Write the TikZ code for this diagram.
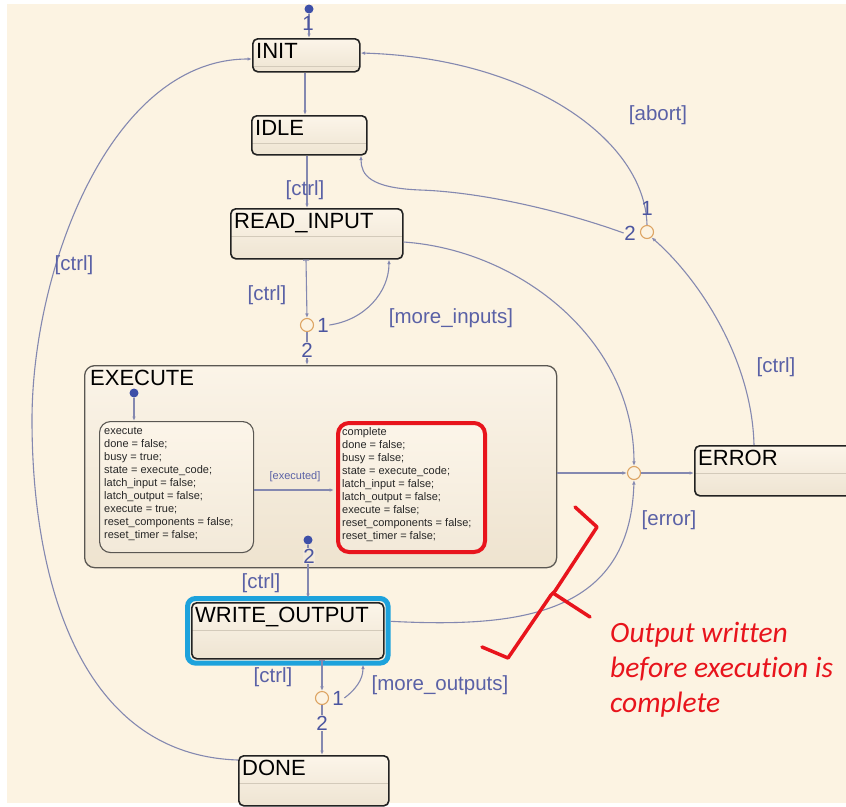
\documentclass[tikz,border=0pt]{standalone}
\usepackage{fontspec}
\setmainfont{Liberation Sans}
\newfontfamily\annofont[Ligatures=NoCommon]{Carlito}
\usetikzlibrary{arrows.meta,calc}

\definecolor{bgcream}{HTML}{FCF3E2}
\definecolor{transline}{HTML}{8488B0}
\definecolor{translabel}{HTML}{5A61A6}
\definecolor{priolabel}{HTML}{4B55A0}
\definecolor{juncring}{HTML}{DDA463}
\definecolor{dotblue}{HTML}{3D4FA8}
\definecolor{statetop}{HTML}{FCF5E9}
\definecolor{statebot}{HTML}{EEE4D2}
\definecolor{stateedge}{HTML}{222222}
\definecolor{supertop}{HTML}{FBF4E8}
\definecolor{superbot}{HTML}{EEE3CF}
\definecolor{superedge}{HTML}{5A5752}
\definecolor{dividerline}{HTML}{D3CABA}
\definecolor{alertred}{HTML}{E8141C}
\definecolor{selblue}{HTML}{1DA2DC}

\tikzset{
  statebox/.style={draw=stateedge, line width=1.6pt, rounded corners=5pt,
    top color=statetop, bottom color=statebot, inner sep=0pt, anchor=north west,
    path picture={\draw[dividerline, line width=0.8pt]
      ([yshift=-28pt]path picture bounding box.north west) --
      ([yshift=-28pt]path picture bounding box.north east);}},
  statename/.style={anchor=north west, inner sep=0pt, text=black,
    font=\fontsize{22}{26}\selectfont, xshift=4pt, yshift=-5pt},
  superbox/.style={draw=superedge, line width=1.3pt, rounded corners=10pt,
    top color=supertop, bottom color=superbot, inner sep=0pt, anchor=north west},
  substate/.style={draw=superedge, line width=1.1pt, rounded corners=11pt,
    top color=statetop, bottom color=statebot!70!statetop, inner sep=0pt, anchor=north west},
  codetext/.style={anchor=north west, inner sep=0pt, align=left, text=black!85,
    font=\fontsize{11}{13}\selectfont, xshift=5pt, yshift=-6pt},
  dot/.style={circle, fill=dotblue, inner sep=0pt, minimum size=9pt},
  junction/.style={circle, draw=juncring, line width=1.1pt, fill=bgcream,
    inner sep=0pt, minimum size=13pt},
  trans/.style={draw=transline, line width=1.1pt,
    -{Latex[open, length=4.5pt, width=3.6pt]}},
  srcbar/.style={arrows={Bar[width=6pt]-Latex[open, length=4.5pt, width=3.6pt]}},
  lbl/.style={text=translabel, inner sep=0pt, font=\fontsize{20.5}{24}\selectfont},
  codelbl/.style={text=translabel, inner sep=0pt, font=\fontsize{11}{13}\selectfont},
  junclbl/.style={text=priolabel, inner sep=0.5pt, font=\fontsize{20.5}{24}\selectfont},
  redmark/.style={draw=alertred, line width=3.5pt, line join=round, line cap=round},
  anno/.style={anchor=base west, align=left, inner sep=0pt, text=alertred,
    font=\annofont\itshape\fontsize{29.5}{35}\selectfont}
}

\begin{document}
\begin{tikzpicture}[x=1pt,y=-1pt]
\useasboundingbox (0,0) rectangle (846,806);
\fill[white] (0,0) rectangle (846,806);
\fill[bgcream] (7,4) rectangle (846,803);

% ---- top-level states ----
\node[statebox, minimum width=107pt, minimum height=33pt,
  label={[statename]north west:INIT}] (init) at (252,38) {};
\node[statebox, minimum width=115pt, minimum height=39pt,
  label={[statename]north west:IDLE}] (idle) at (251,115) {};
\node[statebox, minimum width=172pt, minimum height=50pt,
  label={[statename]north west:READ\_INPUT}] (read) at (230,208) {};
\node[statebox, minimum width=170pt, minimum height=50pt,
  label={[statename]north west:ERROR}] (error) at (694,445) {};

% ---- EXECUTE superstate with its substates ----
\node[superbox, minimum width=472pt, minimum height=202pt,
  label={[statename, xshift=2pt]north west:EXECUTE}] (exec) at (84,365) {};
\node[substate, minimum width=154pt, minimum height=131pt,
  label={[codetext]north west:{execute\\done = false;\\busy = true;\\state = execute\_code;\\latch\_input = false;\\latch\_output = false;\\execute = true;\\reset\_components = false;\\reset\_timer = false;}}]
  (subexec) at (99,421) {};
\node[substate, draw=alertred, line width=4pt, minimum width=147pt, minimum height=129pt,
  label={[codetext, xshift=1pt]north west:{complete\\done = false;\\busy = false;\\state = execute\_code;\\latch\_input = false;\\latch\_output = false;\\execute = false;\\reset\_components = false;\\reset\_timer = false;}}]
  (subdone) at (336,421) {};

% ---- output states ----
\node[statebox, minimum width=192pt, minimum height=56pt,
  label={[statename]north west:WRITE\_OUTPUT}] (write) at (191,602) {};
\draw[selblue, line width=5pt, rounded corners=8pt]
  ([shift={(-3.5pt,3.5pt)}]write.north west) rectangle ([shift={(3.5pt,-3.5pt)}]write.south east);
\node[statebox, minimum width=150pt, minimum height=50pt,
  label={[statename]north west:DONE}] (done) at (238,755) {};

% ---- default transitions and junctions ----
\node[dot] (initdot) at (309,9) {};
\node[dot] (execdot) at (134,393) {};
\node[dot] (histdot) at (308,540) {};
\node[junction] (j1) at (307,325) {};
\node[junction] (j2) at (322,698) {};
\node[junction] (j3) at (634,473) {};
\node[junction] (j4) at (647,232) {};

% ---- main sequence ----
\draw[trans] (initdot) -- (init.north -| initdot);
\node[junclbl] (initprio) at (308,23) {1};
\draw[trans] (init.south -| 305,0) -- (idle.north -| 305,0);
\draw[trans] (idle.south -| 307,0) -- (read.north -| 307,0);
\node[lbl] (lidle) at (305,190) {[ctrl]};

\draw[trans, srcbar] (read.south -| 306,0) -- (j1.north);
\node[lbl] (lread) at (267,295) {[ctrl]};
\node[junclbl] (j1one) at (323,325) {1};
\draw[trans] (j1one.east) .. controls (365,320) and (389,292) .. (read.south -| 389,0);
\node[lbl] (lmorein) at (451,318) {[more\_inputs]};
\draw[trans] (j1.south) -- (exec.north -| j1);
\node[junclbl, fill=bgcream] (j1two) at (307,350) {2};

\draw[trans] (execdot) -- (subexec.north -| execdot);
\draw[trans, shorten >=2pt] (subexec.east |- 0,490) -- (subdone.west |- 0,490);
\node[codelbl] (lexecuted) at (295,477) {[executed]};

\draw[trans, shorten >=4pt] (histdot) -- (write.north -| histdot);
\node[junclbl, fill=superbot!60!supertop] (histprio) at (309,556) {2};
\node[lbl] (lexec) at (261,583) {[ctrl]};

\draw[trans, srcbar] (write.south -| 322,0) -- (j2.north);
\node[lbl] (lwrite) at (273,677) {[ctrl]};
\node[junclbl] (j2one) at (338,698) {1};
\draw[trans, shorten >=5pt] (j2one.east) .. controls (355,690) and (363,680) .. (write.south -| 363,0);
\node[lbl] (lmoreout) at (440,685) {[more\_outputs]};
\draw[trans] (j2.south) -- (done.north -| j2);
\node[junclbl, fill=bgcream] (j2two) at (322,723) {2};

% ---- return from DONE to INIT ----
\draw[trans] (done.west |- 0,760) .. controls (80,755) and (32,580) .. (32,420)
  .. controls (32,270) and (110,59) .. (init.west |- 0,59);
\node[lbl] (ldone) at (74,265) {[ctrl]};

% ---- error handling ----
\draw[trans] (read.east |- 0,242) .. controls (520,250) and (634,340) .. (j3.north);
\draw[trans] (exec.east |- j3) -- (j3.west);
\draw[trans, shorten <=6pt] (write.east |- 0,621) .. controls (520,628) and (630,615) .. (j3.south);
\node[lbl] (lerror) at (669,520) {[error]};
\draw[trans] (j3.east) -- (error.west |- j3);
\draw[trans] (error.north -| 754,0) .. controls (752,360) and (700,280) .. (j4.-50);
\node[lbl] (lerrctrl) at (776,367) {[ctrl]};
\draw[trans] (j4.north) .. controls (645,140) and (530,58) .. (init.east |- 0,53);
\node[lbl] (labort) at (658,115) {[abort]};
\node[junclbl] (j4one) at (647,208) {1};
\node[junclbl] (j4two) at (630,233) {2};
\draw[trans] (j4two.west) .. controls (560,210) and (480,192) .. (420,190)
  .. controls (370,188) and (361,175) .. (idle.south -| 361,0);

% ---- annotation ----
\draw[redmark] (575,507) -- (597,527) -- (555,591) -- (551,595) -- (508,658) -- (482,647);
\draw[redmark] (553,593) -- (590,617);
\node[anno] (note) at (610,712) {Output written\\before execution is\\complete};
\end{tikzpicture}
\end{document}
